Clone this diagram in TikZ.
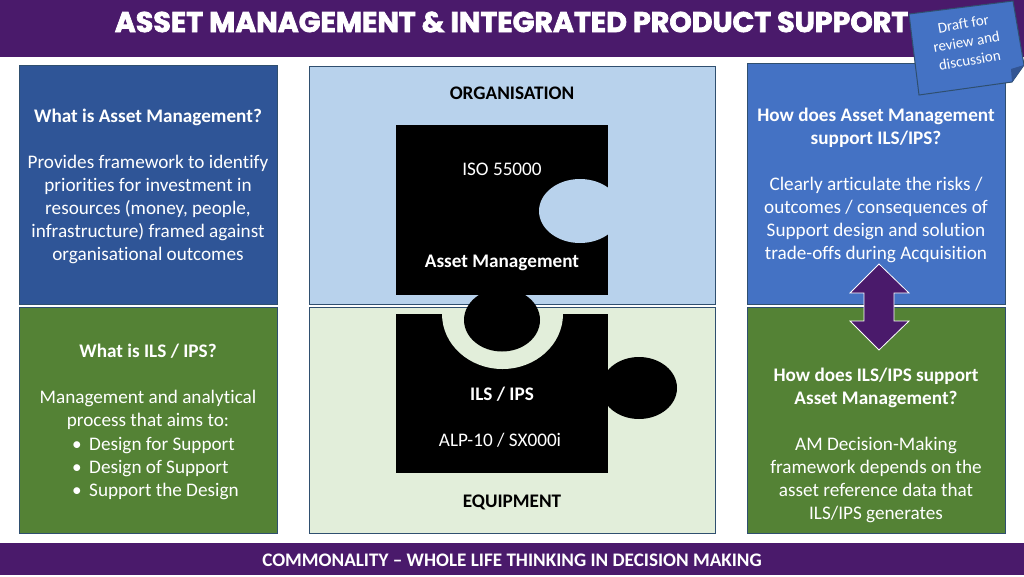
\documentclass[tikz,border=0pt]{standalone}
\usepackage{fontspec}
\setmainfont[Ligatures=NoCommon]{Carlito}
\newfontfamily\titlefont[BoldFeatures={FakeBold=2.5}]{Poppins}
\definecolor{hdr}{HTML}{4A1A6B}
\definecolor{darkblue}{HTML}{2F5597}
\definecolor{midblue}{HTML}{4472C4}
\definecolor{grn}{HTML}{548235}
\definecolor{paleblue}{HTML}{B8D2EC}
\definecolor{palegreen}{HTML}{E2EEDA}
\definecolor{edgeline}{HTML}{2F4F6F}
\tikzset{
  panel/.style={draw=edgeline,line width=1pt},
  body/.style={text=white,align=center,font=\fontsize{19.2}{23}\selectfont},
  dark/.style={text=black,align=center,font=\fontsize{19.2}{23}\selectfont\bfseries},
  band/.style={fill=hdr,draw=none},
}
\begin{document}
\begin{tikzpicture}[x=1pt,y=-1pt]
\useasboundingbox (0,0) rectangle (1024,576);
\fill[white] (0,0) rectangle (1024,576);
% bands
\fill[band] (0,0) rectangle (1024,57);
\fill[band] (0,543) rectangle (1024,575);
\node[text=white,font=\fontsize{28.5}{30}\titlefont\bfseries,anchor=center,inner sep=0pt] (title) at (511.5,22) {ASSET MANAGEMENT \& INTEGRATED PRODUCT SUPPORT};
\node[text=white,font=\fontsize{19.15}{22}\selectfont\bfseries,inner sep=0pt] (foot) at (512,560) {COMMONALITY – WHOLE LIFE THINKING IN DECISION MAKING};
% panels
\draw[panel,fill=darkblue] (19,65.5) rectangle (277,304);
\draw[panel,fill=grn] (19,307.5) rectangle (277,533);
\draw[panel,fill=paleblue] (309,66) rectangle (715,304);
\draw[panel,fill=palegreen] (309,307.5) rectangle (715,533);
\draw[panel,fill=midblue] (747,63.5) rectangle (1005,304);
\draw[panel,fill=grn] (747,307.5) rectangle (1005,533);
% puzzle top
\fill[black] (396,125) rectangle (608,295);
\begin{scope}
\clip (500,150) rectangle (608,270);
\fill[paleblue] (580,211) ellipse [x radius=41,y radius=32];
\end{scope}
% puzzle bottom
\fill[black] (396,314) rectangle (608,473);
\begin{scope}
\clip (430,314) rectangle (575,380);
\fill[palegreen] (502.5,314) ellipse [x radius=60.5,y radius=55];
\end{scope}
\fill[black] (502,320) ellipse [x radius=38,y radius=31.5];
\fill[black] (639,388) ellipse [x radius=38,y radius=31];
% double arrow
\draw[fill=hdr,draw=white,line width=0.8pt,line join=miter]
  (879,264) -- (909,293) -- (894,293) -- (894,321) -- (909,321) -- (879,350)
  -- (850,321) -- (864,321) -- (864,293) -- (850,293) -- cycle;
% badge
\draw[fill=midblue,draw=edgeline,line width=1pt]
  (909,14) -- (1013,1) -- (1024,65) -- (1012,82) -- (919,95) -- cycle;
\fill[midblue!75!black] (1024,65) -- (1012,82) -- (1011,69) -- cycle;
\node[rotate=10,text=white,align=center,font=\fontsize{15}{18.5}\selectfont,inner sep=0pt] (badge) at (966.5,42) {Draft for\\review and\\discussion};
% left texts
\node[body,inner sep=0pt] (amq) at (148,186) {\bfseries What is Asset Management?\\[23pt]Provides framework to identify\\priorities for investment in\\resources (money, people,\\infrastructure) framed against\\organisational outcomes};
\node[body,inner sep=0pt] (ilsq) at (148,387) {\bfseries What is ILS / IPS?\\[23pt]Management and analytical\\process that aims to:};
\node[body,align=left,inner sep=0pt,anchor=west] (ilsb) at (74,469) {\makebox[15pt][l]{\hspace*{-2pt}•}Design for Support\\\makebox[15pt][l]{\hspace*{-2pt}•}Design of Support\\\makebox[15pt][l]{\hspace*{-2pt}•}Support the Design};
% centre texts
\node[dark,inner sep=0pt] (org) at (512,93.3) {ORGANISATION};
\node[dark,inner sep=0pt] (equip) at (512,502) {EQUIPMENT};
\node[body,inner sep=0pt] (iso) at (502,169) {ISO 55000};
\node[body,inner sep=0pt] (am) at (502,263) {\bfseries Asset Management};
\node[body,inner sep=0pt] (ils) at (502,394) {\bfseries ILS / IPS};
\node[body,inner sep=0pt] (alp) at (500,440) {ALP-10 / SX000i};
% right texts
\node[body,inner sep=0pt] (howam) at (876,185) {{\bfseries How does Asset Management}\\{\bfseries support ILS/IPS?}\\[23pt]Clearly articulate the risks /\\outcomes / consequences of\\Support design and solution\\trade-offs during Acquisition};
\node[body,inner sep=0pt] (howils) at (876,445) {{\bfseries How does ILS/IPS support}\\{\bfseries Asset Management?}\\[23pt]AM Decision-Making\\framework depends on the\\asset reference data that\\ILS/IPS generates};
\end{tikzpicture}
\end{document}
